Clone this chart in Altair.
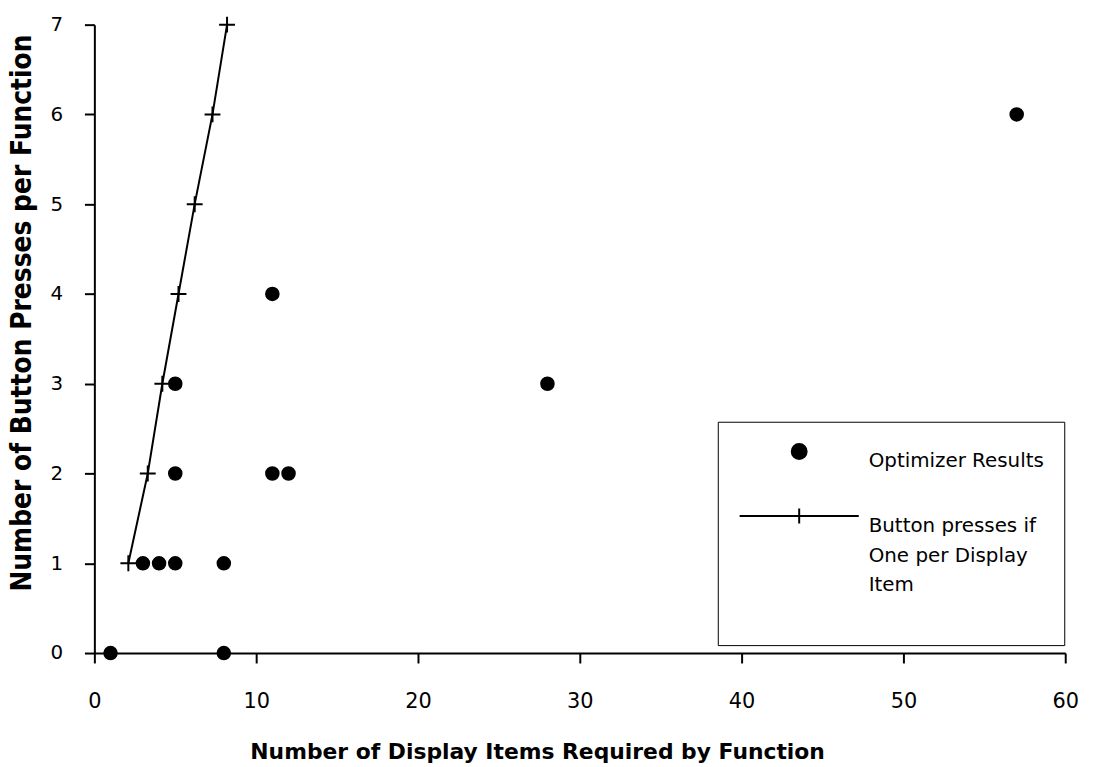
import altair as alt
import pandas as pd

# Optimizer results (scatter)
opt_x = [1, 8, 3, 4, 5, 8, 5, 11, 12, 5, 11, 28, 57]
opt_y = [0, 0, 1, 1, 1, 1, 2, 2, 2, 3, 4, 3, 6]

# Button presses if one per display item (line with crosses)
btn_x = [2.1, 3.3, 4.2, 5.2, 6.2, 7.3, 8.2]
btn_y = [1, 2, 3, 4, 5, 6, 7]

series_names = ["Optimizer Results", "Button presses if|One per Display|Item"]
x_ticks = [0, 10, 20, 30, 40, 50, 60]
y_ticks = [0, 1, 2, 3, 4, 5, 6, 7]

opt_df = pd.DataFrame({"x": opt_x, "y": opt_y, "series": series_names[0]})
btn_df = pd.DataFrame({"x": btn_x, "y": btn_y, "series": series_names[1]})

W, H = 978, 633
CROSS = "M-1,0H1M0,-1V1"
LEGEND_LINE = "M-8,0H8M0,-1V1"

x_scale = alt.Scale(domain=[0, 60], nice=False, zero=False)
y_scale = alt.Scale(domain=[0, 7], nice=False, zero=False)

x_enc = alt.X(
    "x:Q",
    scale=x_scale,
    axis=alt.Axis(
        values=x_ticks,
        format="d",
        title="Number of Display Items Required by Function",
        tickSize=10,
        labelPadding=28,
        titlePadding=30,
        titleFontSize=22,
        titleX=446,
        labelFontSize=21,
    ),
)
y_enc = alt.Y(
    "y:Q",
    scale=y_scale,
    axis=alt.Axis(
        values=y_ticks,
        format="d",
        title="Number of Button Presses per Function",
        tickSize=10,
        labelPadding=22,
        titlePadding=14,
        titleFont="DejaVu Sans Condensed",
        titleFontSize=28,
        titleY=290,
        labelFontSize=20,
    ),
)

label_expr = "indexof(datum.label, '|') >= 0 ? split(datum.label + '| ', '|') : datum.label"

dots = alt.Chart(opt_df).mark_point(
    filled=True, fill="black", stroke="black", strokeWidth=2, size=160, opacity=1
).encode(
    x=x_enc,
    y=y_enc,
    shape=alt.Shape(
        "series:N",
        scale=alt.Scale(domain=series_names, range=["circle", LEGEND_LINE]),
        legend=alt.Legend(
            title=None,
            orient="none",
            legendX=628,
            legendY=400,
            padding=20,
            strokeColor="black",
            fillColor="white",
            symbolSize=225,
            symbolStrokeWidth=2,
            symbolOpacity=1,
            symbolOffset=52,
            labelFont="DejaVu Sans",
            labelFontSize=20,
            labelColor="black",
            labelOffset=60,
            labelLimit=800,
            labelBaseline="top",
            labelExpr=label_expr,
            rowPadding=33,
        ),
    ),
)

line = alt.Chart(btn_df).mark_line(color="black", strokeWidth=2).encode(
    x=alt.X("x:Q", scale=x_scale), y=alt.Y("y:Q", scale=y_scale)
)
crosses = alt.Chart(btn_df).mark_point(
    shape=CROSS, size=256, filled=False, color="black", strokeWidth=2, opacity=1
).encode(x=alt.X("x:Q", scale=x_scale), y=alt.Y("y:Q", scale=y_scale))

chart = (
    alt.layer(dots, line, crosses)
    .properties(
        width=W,
        height=H,
        autosize=alt.AutoSizeParams(type="none"),
        padding={"left": 87, "top": 14, "right": 32, "bottom": 110},
        background="white",
    )
    .configure(style={"guide-label": {"lineHeight": 30}})
    .configure_view(stroke=None)
    .configure_axis(
        grid=False,
        domainColor="black",
        domainWidth=2,
        tickColor="black",
        tickWidth=2,
        labelColor="black",
        titleColor="black",
        labelFont="DejaVu Sans",
        titleFont="DejaVu Sans",
        titleFontWeight="bold",
        labelFlush=False,
    )
)

chart.save("out.html", embed_options={"renderer": "svg", "actions": False})
